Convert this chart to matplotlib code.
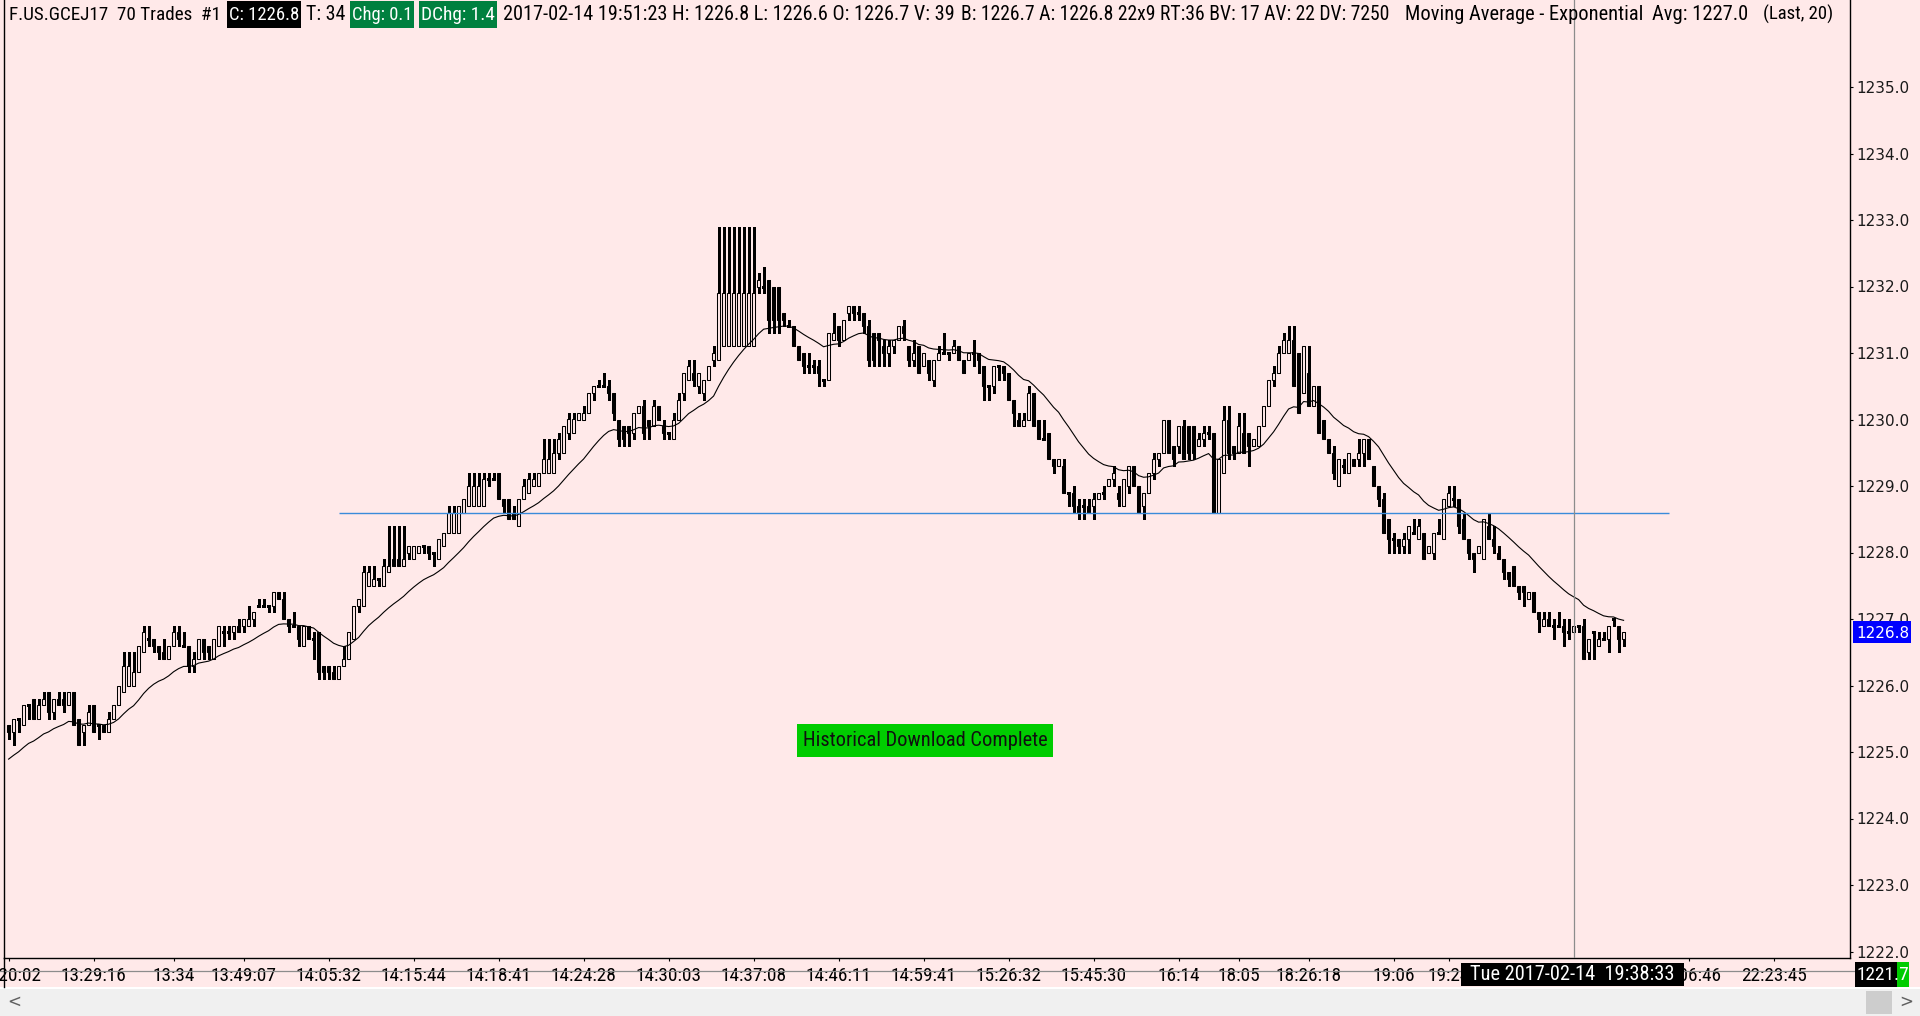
import matplotlib
matplotlib.use('Agg')
import matplotlib.pyplot as plt
import numpy as np
from matplotlib.patches import Rectangle
from matplotlib.transforms import Bbox
from matplotlib import font_manager as fm

# OHLC of the 70-trade bars (bar 0 = leftmost)
opens = [
    1225.4, 1225.3, 1225.5, 1225.4, 1225.7, 1225.8, 1225.5, 1225.7, 1225.9, 1225.6,
    1225.8, 1225.8, 1225.7, 1225.9, 1225.5, 1225.3, 1225.4, 1225.7, 1225.4, 1225.4,
    1225.3, 1225.5, 1225.7, 1225.9, 1226.0, 1226.0, 1226.2, 1226.5, 1226.7, 1226.7,
    1226.6, 1226.5, 1226.4, 1226.6, 1226.8, 1226.6, 1226.6, 1226.3, 1226.4, 1226.7,
    1226.6, 1226.4, 1226.6, 1226.8, 1226.8, 1226.8, 1226.9, 1226.9, 1226.9, 1227.0,
    1227.2, 1227.2, 1227.2, 1227.2, 1227.4, 1227.3, 1227.0, 1226.9, 1226.9, 1226.6,
    1226.9, 1226.7, 1226.8, 1226.3, 1226.3, 1226.2, 1226.1, 1226.3, 1226.4, 1226.7,
    1227.2, 1227.2, 1227.5, 1227.5, 1227.6, 1227.5, 1227.7, 1227.9, 1227.9, 1227.8,
    1228.0, 1227.9, 1228.0, 1228.1, 1228.1, 1228.0, 1227.9, 1228.1, 1228.3, 1228.3,
    1228.3, 1228.6, 1228.7, 1228.7, 1228.7, 1228.7, 1229.1, 1229.1, 1229.2, 1228.8,
    1228.8, 1228.6, 1228.4, 1228.8, 1228.9, 1229.0, 1229.0, 1229.2, 1229.2, 1229.2,
    1229.5, 1229.5, 1229.8, 1229.8, 1230.0, 1230.0, 1230.1, 1230.4, 1230.5, 1230.5,
    1230.5, 1230.4, 1230.0, 1229.9, 1229.9, 1229.8, 1230.1, 1230.2, 1230.0, 1229.9,
    1230.2, 1229.9, 1229.8, 1229.7, 1230.0, 1230.4, 1230.6, 1230.7, 1230.5, 1230.4,
    1230.6, 1230.9, 1230.9, 1231.1, 1231.1, 1231.1, 1231.1, 1231.1, 1231.1, 1231.1,
    1232.0, 1232.0, 1232.1, 1232.0, 1232.0, 1231.6, 1231.4, 1231.4, 1231.1, 1231.0,
    1230.8, 1230.8, 1230.8, 1230.6, 1230.6, 1231.2, 1231.4, 1231.2, 1231.6, 1231.7,
    1231.6, 1231.6, 1231.4, 1231.3, 1231.3, 1231.1, 1231.0, 1231.1, 1231.2, 1231.4,
    1231.1, 1230.9, 1231.1, 1230.8, 1230.9, 1230.6, 1230.9, 1231.0, 1231.0, 1231.0,
    1231.1, 1230.9, 1230.9, 1231.0, 1231.0, 1230.8, 1230.5, 1230.5, 1230.8, 1230.8,
    1230.7, 1230.3, 1230.0, 1229.9, 1230.0, 1230.4, 1230.0, 1229.7, 1229.8, 1229.4,
    1229.3, 1229.3, 1228.9, 1228.9, 1228.7, 1228.7, 1228.7, 1228.7, 1228.8, 1228.9,
    1229.0, 1229.1, 1228.9, 1228.7, 1229.0, 1229.3, 1229.0, 1228.7, 1228.9, 1229.2,
    1229.4, 1229.5, 1230.0, 1229.6, 1229.6, 1229.9, 1229.9, 1229.9, 1229.6, 1229.7,
    1229.8, 1229.8, 1228.6, 1229.2, 1230.0, 1229.6, 1229.5, 1229.8, 1229.8, 1229.6,
    1229.6, 1229.9, 1230.2, 1230.6, 1230.7, 1231.0, 1231.0, 1231.2, 1231.0, 1230.4,
    1230.7, 1230.2, 1230.5, 1230.0, 1229.7, 1229.5, 1229.0, 1229.3, 1229.2, 1229.4,
    1229.4, 1229.5, 1229.7, 1229.3, 1229.0, 1228.8, 1228.5, 1228.2, 1228.2, 1228.1,
    1228.2, 1228.3, 1228.2, 1228.3, 1228.0, 1228.0, 1228.3, 1228.2, 1228.7, 1228.8,
    1228.8, 1228.5, 1228.2, 1228.0, 1228.0, 1227.9, 1228.4, 1228.2, 1228.0, 1227.9,
    1227.7, 1227.8, 1227.5, 1227.5, 1227.3, 1227.4, 1227.1, 1226.9, 1227.0, 1226.9,
    1226.9, 1226.9, 1226.8, 1226.8, 1226.9, 1226.9, 1226.5, 1226.8, 1226.6, 1226.7,
    1226.7, 1227.0, 1226.9, 1226.7,
]
highs = [
    1225.4, 1225.5, 1225.5, 1225.7, 1225.7, 1225.8, 1225.8, 1225.9, 1225.9, 1225.8,
    1225.9, 1225.9, 1225.9, 1225.9, 1225.5, 1225.4, 1225.7, 1225.7, 1225.4, 1225.4,
    1225.6, 1225.7, 1226.0, 1226.5, 1226.5, 1226.5, 1226.6, 1226.9, 1226.9, 1226.7,
    1226.6, 1226.7, 1226.6, 1226.9, 1226.9, 1226.8, 1226.6, 1226.5, 1226.7, 1226.7,
    1226.6, 1226.7, 1226.9, 1226.9, 1226.9, 1226.9, 1227.0, 1227.0, 1227.2, 1227.1,
    1227.3, 1227.3, 1227.2, 1227.4, 1227.4, 1227.4, 1227.0, 1227.1, 1226.9, 1226.9,
    1226.9, 1226.8, 1226.8, 1226.3, 1226.3, 1226.3, 1226.3, 1226.6, 1226.8, 1227.2,
    1227.3, 1227.8, 1227.8, 1227.8, 1227.6, 1227.9, 1228.4, 1228.4, 1228.4, 1228.4,
    1228.1, 1228.1, 1228.1, 1228.1, 1228.1, 1228.0, 1228.2, 1228.3, 1228.7, 1228.7,
    1228.7, 1228.8, 1229.2, 1229.2, 1229.2, 1229.2, 1229.2, 1229.2, 1229.2, 1228.8,
    1228.8, 1228.7, 1228.8, 1229.1, 1229.2, 1229.2, 1229.2, 1229.7, 1229.7, 1229.7,
    1229.8, 1229.9, 1230.1, 1230.1, 1230.1, 1230.2, 1230.4, 1230.5, 1230.6, 1230.7,
    1230.6, 1230.4, 1230.0, 1229.9, 1229.9, 1230.1, 1230.2, 1230.3, 1230.0, 1230.3,
    1230.2, 1230.0, 1229.8, 1230.1, 1230.4, 1230.7, 1230.9, 1230.9, 1230.7, 1230.6,
    1230.8, 1231.1, 1232.9, 1232.9, 1232.9, 1232.9, 1232.9, 1232.9, 1232.9, 1232.9,
    1232.2, 1232.3, 1232.1, 1232.0, 1232.0, 1231.6, 1231.5, 1231.4, 1231.1, 1231.0,
    1231.0, 1230.9, 1230.9, 1230.6, 1231.3, 1231.6, 1231.4, 1231.5, 1231.7, 1231.7,
    1231.7, 1231.6, 1231.5, 1231.3, 1231.3, 1231.2, 1231.2, 1231.2, 1231.4, 1231.5,
    1231.1, 1231.2, 1231.1, 1231.0, 1230.9, 1230.9, 1231.1, 1231.3, 1231.0, 1231.2,
    1231.1, 1230.9, 1231.0, 1231.2, 1231.0, 1230.8, 1230.5, 1230.8, 1230.8, 1230.8,
    1230.7, 1230.3, 1230.1, 1230.1, 1230.5, 1230.4, 1230.0, 1230.0, 1229.8, 1229.4,
    1229.4, 1229.4, 1228.9, 1229.0, 1228.8, 1228.8, 1228.8, 1228.9, 1228.9, 1229.0,
    1229.1, 1229.3, 1229.0, 1229.1, 1229.3, 1229.3, 1229.0, 1228.9, 1229.2, 1229.5,
    1229.5, 1230.0, 1230.0, 1229.6, 1229.9, 1230.0, 1229.9, 1229.9, 1229.8, 1229.9,
    1229.9, 1229.8, 1229.4, 1230.2, 1230.2, 1229.6, 1230.1, 1230.1, 1229.8, 1229.7,
    1229.9, 1230.2, 1230.6, 1230.8, 1231.1, 1231.3, 1231.4, 1231.4, 1231.0, 1231.1,
    1231.1, 1230.5, 1230.5, 1230.0, 1229.7, 1229.6, 1229.4, 1229.4, 1229.5, 1229.4,
    1229.7, 1229.7, 1229.7, 1229.3, 1229.0, 1228.9, 1228.5, 1228.3, 1228.2, 1228.3,
    1228.4, 1228.5, 1228.5, 1228.3, 1228.1, 1228.3, 1228.5, 1228.8, 1229.0, 1229.0,
    1228.8, 1228.6, 1228.2, 1228.0, 1228.1, 1228.5, 1228.6, 1228.4, 1228.1, 1227.9,
    1227.7, 1227.8, 1227.5, 1227.5, 1227.4, 1227.4, 1227.1, 1227.1, 1227.1, 1227.0,
    1227.1, 1227.0, 1227.0, 1226.9, 1226.9, 1227.0, 1226.7, 1226.8, 1226.8, 1226.8,
    1226.9, 1227.0, 1226.9, 1226.8,
]
lows = [
    1225.2, 1225.1, 1225.3, 1225.4, 1225.5, 1225.5, 1225.5, 1225.7, 1225.5, 1225.5,
    1225.7, 1225.6, 1225.7, 1225.4, 1225.1, 1225.1, 1225.4, 1225.3, 1225.2, 1225.3,
    1225.3, 1225.5, 1225.7, 1225.9, 1226.0, 1226.0, 1226.2, 1226.5, 1226.6, 1226.5,
    1226.4, 1226.4, 1226.4, 1226.6, 1226.6, 1226.6, 1226.2, 1226.2, 1226.4, 1226.4,
    1226.4, 1226.4, 1226.6, 1226.6, 1226.7, 1226.7, 1226.8, 1226.8, 1226.9, 1226.9,
    1227.2, 1227.2, 1227.1, 1227.1, 1227.3, 1227.0, 1226.8, 1226.9, 1226.6, 1226.6,
    1226.7, 1226.4, 1226.1, 1226.1, 1226.1, 1226.1, 1226.1, 1226.3, 1226.4, 1226.7,
    1227.1, 1227.2, 1227.5, 1227.5, 1227.5, 1227.5, 1227.7, 1227.8, 1227.8, 1227.8,
    1227.9, 1227.9, 1228.0, 1228.0, 1227.9, 1227.8, 1227.9, 1228.1, 1228.3, 1228.3,
    1228.3, 1228.6, 1228.7, 1228.7, 1228.7, 1228.7, 1229.0, 1229.1, 1228.8, 1228.6,
    1228.5, 1228.5, 1228.4, 1228.8, 1228.9, 1229.0, 1229.0, 1229.2, 1229.2, 1229.2,
    1229.4, 1229.5, 1229.7, 1229.8, 1230.0, 1230.0, 1230.1, 1230.3, 1230.5, 1230.5,
    1230.3, 1230.0, 1229.6, 1229.6, 1229.6, 1229.7, 1230.1, 1229.7, 1229.7, 1229.9,
    1230.0, 1229.7, 1229.7, 1229.7, 1230.0, 1230.3, 1230.6, 1230.5, 1230.4, 1230.3,
    1230.6, 1230.8, 1230.9, 1231.1, 1231.1, 1231.1, 1231.1, 1231.1, 1231.1, 1231.1,
    1231.9, 1231.9, 1231.3, 1231.3, 1231.3, 1231.4, 1231.4, 1231.1, 1230.9, 1230.7,
    1230.7, 1230.7, 1230.5, 1230.5, 1230.6, 1231.2, 1231.1, 1231.2, 1231.5, 1231.5,
    1231.5, 1231.3, 1230.8, 1230.8, 1230.8, 1230.8, 1230.8, 1231.0, 1231.2, 1231.2,
    1230.8, 1230.8, 1230.7, 1230.8, 1230.6, 1230.5, 1230.9, 1231.0, 1230.9, 1231.0,
    1230.9, 1230.7, 1230.9, 1230.8, 1230.7, 1230.3, 1230.3, 1230.4, 1230.6, 1230.6,
    1230.3, 1229.9, 1229.9, 1229.9, 1230.0, 1229.9, 1229.7, 1229.7, 1229.4, 1229.2,
    1229.3, 1228.9, 1228.7, 1228.6, 1228.5, 1228.5, 1228.6, 1228.5, 1228.8, 1228.8,
    1229.0, 1229.0, 1228.7, 1228.7, 1228.9, 1229.0, 1228.6, 1228.5, 1228.9, 1229.1,
    1229.3, 1229.5, 1229.5, 1229.3, 1229.5, 1229.4, 1229.4, 1229.4, 1229.6, 1229.6,
    1229.7, 1228.6, 1228.6, 1229.2, 1229.4, 1229.4, 1229.5, 1229.5, 1229.3, 1229.6,
    1229.6, 1229.9, 1230.2, 1230.5, 1230.7, 1231.0, 1231.0, 1230.5, 1230.1, 1230.4,
    1230.2, 1230.2, 1229.8, 1229.7, 1229.5, 1229.1, 1229.0, 1229.2, 1229.2, 1229.3,
    1229.3, 1229.3, 1229.4, 1229.0, 1228.7, 1228.3, 1228.0, 1228.0, 1228.0, 1228.0,
    1228.0, 1228.3, 1228.2, 1227.9, 1228.0, 1227.9, 1228.3, 1228.2, 1228.7, 1228.7,
    1228.3, 1228.2, 1227.9, 1227.7, 1228.0, 1227.9, 1228.2, 1228.0, 1227.9, 1227.6,
    1227.5, 1227.5, 1227.3, 1227.2, 1227.3, 1227.1, 1226.8, 1226.9, 1226.9, 1226.7,
    1226.9, 1226.6, 1226.7, 1226.8, 1226.8, 1226.4, 1226.4, 1226.4, 1226.6, 1226.7,
    1226.5, 1226.9, 1226.5, 1226.6,
]
closes = [
    1225.3, 1225.5, 1225.5, 1225.7, 1225.7, 1225.5, 1225.7, 1225.8, 1225.6, 1225.8,
    1225.7, 1225.7, 1225.9, 1225.4, 1225.1, 1225.4, 1225.6, 1225.3, 1225.4, 1225.3,
    1225.5, 1225.7, 1226.0, 1226.3, 1226.3, 1226.2, 1226.6, 1226.8, 1226.7, 1226.6,
    1226.5, 1226.4, 1226.6, 1226.8, 1226.7, 1226.6, 1226.3, 1226.4, 1226.7, 1226.5,
    1226.5, 1226.7, 1226.9, 1226.8, 1226.8, 1226.9, 1226.8, 1227.0, 1227.0, 1227.1,
    1227.2, 1227.2, 1227.2, 1227.4, 1227.3, 1227.0, 1226.9, 1226.9, 1226.7, 1226.9,
    1226.7, 1226.7, 1226.2, 1226.2, 1226.2, 1226.1, 1226.3, 1226.4, 1226.8, 1227.2,
    1227.3, 1227.7, 1227.7, 1227.6, 1227.6, 1227.8, 1227.8, 1227.8, 1227.8, 1227.9,
    1228.1, 1228.1, 1228.1, 1228.1, 1228.0, 1228.0, 1228.2, 1228.3, 1228.6, 1228.6,
    1228.7, 1228.8, 1229.0, 1229.0, 1229.0, 1229.1, 1229.1, 1229.1, 1228.8, 1228.7,
    1228.5, 1228.5, 1228.8, 1229.0, 1229.1, 1229.1, 1229.2, 1229.4, 1229.4, 1229.5,
    1229.7, 1229.9, 1230.0, 1230.0, 1230.1, 1230.1, 1230.4, 1230.5, 1230.5, 1230.5,
    1230.4, 1230.1, 1229.7, 1229.7, 1229.8, 1230.1, 1230.2, 1229.8, 1229.9, 1230.2,
    1230.0, 1229.8, 1229.8, 1230.0, 1230.3, 1230.7, 1230.8, 1230.6, 1230.7, 1230.6,
    1230.8, 1231.0, 1231.9, 1231.9, 1231.9, 1231.9, 1231.9, 1231.9, 1231.9, 1231.9,
    1232.1, 1232.0, 1231.5, 1231.5, 1231.5, 1231.5, 1231.4, 1231.1, 1230.9, 1230.8,
    1230.8, 1230.8, 1230.7, 1230.6, 1231.3, 1231.3, 1231.2, 1231.5, 1231.7, 1231.6,
    1231.6, 1231.4, 1230.9, 1230.9, 1231.2, 1231.0, 1231.1, 1231.2, 1231.4, 1231.3,
    1230.9, 1231.0, 1230.7, 1231.0, 1230.7, 1230.9, 1231.0, 1231.0, 1231.0, 1231.1,
    1230.9, 1230.7, 1231.0, 1231.0, 1230.9, 1230.5, 1230.5, 1230.8, 1230.8, 1230.7,
    1230.3, 1230.1, 1229.9, 1230.0, 1230.4, 1229.9, 1229.7, 1229.7, 1229.4, 1229.3,
    1229.4, 1228.9, 1228.9, 1228.7, 1228.6, 1228.7, 1228.6, 1228.8, 1228.9, 1228.9,
    1229.1, 1229.2, 1228.8, 1229.1, 1229.3, 1229.0, 1228.6, 1228.9, 1229.2, 1229.4,
    1229.5, 1230.0, 1229.5, 1229.4, 1229.9, 1229.4, 1229.5, 1229.5, 1229.7, 1229.8,
    1229.8, 1228.6, 1229.4, 1230.0, 1229.5, 1229.5, 1229.9, 1229.5, 1229.6, 1229.7,
    1229.9, 1230.2, 1230.6, 1230.7, 1231.0, 1231.2, 1231.2, 1230.5, 1230.1, 1231.1,
    1230.2, 1230.5, 1229.8, 1229.7, 1229.5, 1229.2, 1229.4, 1229.3, 1229.5, 1229.3,
    1229.5, 1229.7, 1229.4, 1229.0, 1228.8, 1228.3, 1228.2, 1228.2, 1228.1, 1228.2,
    1228.4, 1228.3, 1228.4, 1227.9, 1228.1, 1228.3, 1228.3, 1228.8, 1228.9, 1228.8,
    1228.4, 1228.2, 1228.0, 1227.9, 1228.1, 1228.5, 1228.2, 1228.1, 1227.9, 1227.7,
    1227.6, 1227.5, 1227.4, 1227.4, 1227.4, 1227.1, 1227.0, 1227.0, 1226.9, 1226.9,
    1226.9, 1226.8, 1226.8, 1226.9, 1226.9, 1226.4, 1226.7, 1226.8, 1226.7, 1226.7,
    1226.9, 1227.0, 1226.7, 1226.8,
]

ema_len = 20
ema_seed = 1224.85          # average carried in from bars left of the view
level_price = 1228.6        # drawn horizontal line
level_from, level_to = 66, 332
cursor_bar = 313
cursor_price = 1221.7
last_price = 1226.8

time_ticks = [0, 17, 33, 47, 64, 81, 98, 115, 132, 149, 166, 183, 200, 217,
              234, 246, 260, 277, 288, 336, 353]
time_labels = ['13:20:02', '13:29:16', '13:34', '13:49:07', '14:05:32', '14:15:44',
               '14:18:41', '14:24:28', '14:30:03', '14:37:08', '14:46:11', '14:59:41',
               '15:26:32', '15:45:30', '16:14', '18:05', '18:26:18', '19:06', '19:24',
               '21:06:46', '22:23:45']
price_ticks = list(range(1222, 1236))

header = [
    ('F.US.GCEJ17  70 Trades  #1', 8.6, 220, None),
    ('C: 1226.8', 229, 299, 'black'),
    ('T: 34', 306, 345, None),
    ('Chg: 0.1', 352, 412, 'green'),
    ('DChg: 1.4', 421, 495, 'green'),
    ('2017-02-14 19:51:23 H: 1226.8 L: 1226.6 O: 1226.7 V: 39', 503, 955, None),
    ('B: 1226.7 A: 1226.8 22x9 RT:36 BV: 17 AV: 22 DV: 7250', 961, 1389, None),
    ('Moving Average - Exponential', 1405, 1642, None),
    ('Avg: 1227.0', 1652, 1748, None),
    ('(Last, 20)', 1763, 1833, None),
]

PINK = '#FFE9E9'
GREEN = '#00803F'
W, H = 1920, 1016

# pick a narrow sans for the chart texts, whatever is installed
fonts = fm.fontManager.ttflist
def have(name, stretch=None):
    return any(f.name == name and (stretch is None or f.stretch == stretch) for f in fonts)
if have('Liberation Sans Narrow'):
    NARROW = dict(family=['Liberation Sans Narrow', 'DejaVu Sans'])
elif have('Roboto Condensed'):
    NARROW = dict(family=['Roboto Condensed', 'DejaVu Sans'])
elif have('DejaVu Sans', 'condensed'):
    NARROW = dict(family=['DejaVu Sans'], stretch='condensed')
elif have('Noto Sans', 'condensed'):
    NARROW = dict(family=['Noto Sans'], stretch='condensed')
elif have('Open Sans', 'condensed'):
    NARROW = dict(family=['Open Sans'], stretch='condensed')
else:
    NARROW = dict(family=['Liberation Sans', 'DejaVu Sans'])

o = np.array(opens); h = np.array(highs); l = np.array(lows); c = np.array(closes)
h = np.maximum(h, np.maximum(o, c))
l = np.minimum(l, np.minimum(o, c))
n = len(c)
x = np.arange(n)

ema = np.empty(n)
a = 2.0 / (ema_len + 1)
prev = ema_seed
for i in range(n):
    prev = prev + a * (c[i] - prev)
    ema[i] = prev

fig = plt.figure(figsize=(W / 100, H / 100), dpi=100, facecolor=PINK)
rend = fig.canvas.get_renderer()

def fit(t, width):
    w = t.get_window_extent(rend).width
    t.set_fontsize(t.get_fontsize() * width / w)
    return t

# main chart region: x 4..1850 px, y 0..958 px
ax = fig.add_axes([4 / W, 1 - 958 / H, 1846 / W, 958 / H])
ax.set_facecolor(PINK)
ax.set_xlim((4 - 8.6) / 5, (1850 - 8.6) / 5)
ax.set_ylim(1235 - (958 - 87) / 66.5, 1235 + 87 / 66.5)
for s in ['left', 'right', 'bottom']:
    ax.spines[s].set_color('black')
    ax.spines[s].set_linewidth(1.0)
ax.spines['top'].set_visible(False)

up = c > o
dn = c < o
flat = c == o
ax.vlines(x, l, h, color='black', lw=0.75, antialiased=False, zorder=2)
ax.bar(x[up], (c - o)[up], bottom=o[up], width=0.55, facecolor=PINK,
       edgecolor='black', lw=0.75, zorder=3)
ax.bar(x[dn], (o - c)[dn], bottom=c[dn], width=0.55, facecolor='black',
       edgecolor='black', lw=0.75, zorder=3)
ax.hlines(o[flat], x[flat] - 0.35, x[flat] + 0.35, color='black', lw=0.75,
          antialiased=False, zorder=3)
ax.plot(x, ema, color='black', lw=0.8, zorder=4)

ax.hlines(level_price, level_from, level_to, color='#3A8BDA', lw=1.0, zorder=5)

# crosshair
ax.axvline(cursor_bar, color='#8C8C8C', lw=0.9, zorder=6)
xl = ax.get_xlim()
ax.plot([xl[0] - 1, xl[1] + 1], [cursor_price, cursor_price], color='#8C8C8C',
        lw=0.9, clip_on=False, zorder=6)

ax.set_xticks(time_ticks)
ax.set_xticklabels([])
ax.set_yticks(price_ticks)
ax.set_yticklabels([])
ax.tick_params(axis='x', direction='out', length=2.4, width=0.8, color='black')
ax.tick_params(axis='y', direction='out', length=2.4, width=0.8, color='black',
               left=False, right=True)

ty = -(976 - 958) / 958
tlabels = []
for t, s in zip(time_ticks, time_labels):
    tt = ax.text(t, ty, s, transform=ax.get_xaxis_transform(), ha='center',
                 va='center', fontsize=12, color='black', clip_on=False, **NARROW)
    tlabels.append(tt)
fs_time = fit(tlabels[1], 66).get_fontsize()
for tt in tlabels:
    tt.set_fontsize(fs_time)

px_ax = (1856 - 4) / 1846
clip = Bbox.from_extents(1850, H - 958, W, H)
for p in price_ticks:
    pt = ax.text(px_ax, p, f'{p:.1f}', transform=ax.get_yaxis_transform(), ha='left',
                 va='center_baseline', family='DejaVu Sans', fontsize=11, color='#1A1A1A')
    pt.set_clip_on(True)
    pt.set_clip_box(clip)

# last price marker on the scale
hh = 11 / 66.5
ax.add_patch(Rectangle(((1853 - 4) / 1846, last_price - hh), 58 / 1846, 2 * hh,
                       transform=ax.get_yaxis_transform(), facecolor='#0000FF',
                       edgecolor='none', clip_on=False, zorder=7))
ax.text(px_ax, last_price, f'{last_price:.1f}', transform=ax.get_yaxis_transform(),
        ha='left', va='center_baseline', family='DejaVu Sans', fontsize=11,
        color='white', clip_on=False, zorder=8)

# overlay in pixel coordinates for the window furniture
ov = fig.add_axes([0, 0, 1, 1], zorder=10)
ov.set_xlim(0, W)
ov.set_ylim(H, 0)
ov.axis('off')
ov.patch.set_visible(False)

for s, x0, x1, bg in header:
    if bg == 'black':
        ov.add_patch(Rectangle((227, 1), 74, 27, facecolor='black', edgecolor='none'))
    elif bg == 'green':
        ov.add_patch(Rectangle((x0 - 2, 1), x1 - x0 + 4, 27, facecolor=GREEN,
                               edgecolor='none'))
    col = 'white' if bg else 'black'
    ht = ov.text(x0, 14.5, s, ha='left', va='center', fontsize=13, color=col, **NARROW)
    fit(ht, x1 - x0)

ov.add_patch(Rectangle((797, 724), 256, 33, facecolor='#00CC00', edgecolor='none'))
hd = ov.text(925, 741, 'Historical Download Complete', ha='center', va='center',
             fontsize=13, color='#101010', **NARROW)
fit(hd, 243)

# cursor time label
ov.add_patch(Rectangle((1461, 963), 223, 23, facecolor='black', edgecolor='none'))
ct = ov.text(1572.5, 975, 'Tue 2017-02-14  19:38:33', ha='center', va='center',
             fontsize=13, color='white', **NARROW)
fit(ct, 204)

# cursor price label
ov.add_patch(Rectangle((1855, 962), 42, 25, facecolor='black', edgecolor='none'))
ov.add_patch(Rectangle((1897, 962), 12, 25, facecolor='#00CC00', edgecolor='none'))
ov.text(1857, 975, f'{cursor_price:.1f}', ha='left', va='center',
        fontsize=fs_time, color='white', **NARROW)

# scrollbar
ov.add_patch(Rectangle((0, 987), W, 2, facecolor='white', edgecolor='none'))
ov.add_patch(Rectangle((0, 989), W, 27, facecolor='#F0F0F0', edgecolor='none'))
ov.add_patch(Rectangle((1866, 991), 26, 23, facecolor='#CDCDCD', edgecolor='none'))
ov.text(14, 1002, '<', ha='center', va='center', fontsize=12, color='#606060')
ov.text(1906, 1002, '>', ha='center', va='center', fontsize=12, color='#606060')
ov.plot([3.5, 3.5], [958, 987], color='black', lw=1.0)

fig.savefig('out.png', dpi=100, facecolor=PINK)
